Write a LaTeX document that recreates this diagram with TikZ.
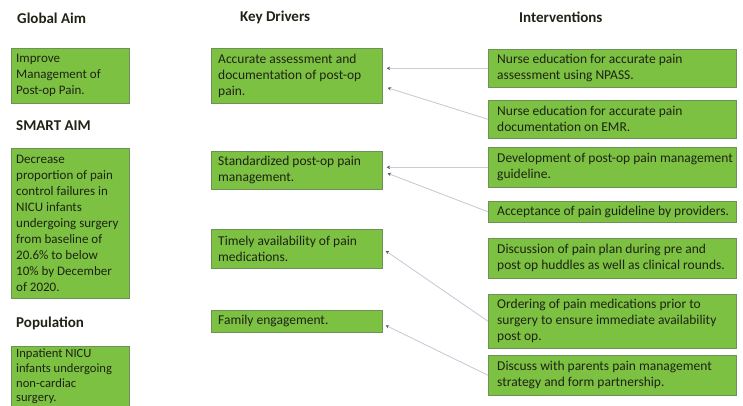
\documentclass[tikz,border=0pt]{standalone}
\usepackage{fontspec}
\setmainfont{Carlito}
\usetikzlibrary{arrows.meta,calc}
\definecolor{boxgreen}{RGB}{125,193,67}
\definecolor{boxedge}{RGB}{110,145,90}
\definecolor{linegray}{RGB}{200,204,214}
\definecolor{tipgray}{RGB}{90,95,110}
\definecolor{txtdark}{RGB}{30,35,20}
\begin{document}
\begin{tikzpicture}[x=1pt,y=-1pt,
  box/.style={draw=boxedge, line width=0.6pt, fill=boxgreen, anchor=north west, inner sep=0pt},
  txt/.style={anchor=west, align=left, inner sep=0pt, text=txtdark, font=\fontsize{13.5}{16}\selectfont},
  ltxt/.style={txt, font=\fontsize{13}{16}\selectfont},
  head/.style={anchor=west, inner sep=0pt, text=txtdark, font=\bfseries\fontsize{15}{18}\selectfont},
  conn/.style={draw=linegray, line width=0.9pt, -{Stealth[length=3.5pt,width=3.5pt,color=tipgray]}}]
\useasboundingbox (0,0) rectangle (743,406);
\begin{scope}
\clip (0,0) rectangle (743,406);
% headings
\node[head] (hg) at (17,18) {Global Aim};
\node[head] (hs) at (16,126) {SMART AIM};
\node[head] (hp) at (16,323) {Population};
\node[head] (hk) at (240,17) {Key Drivers};
\node[head] (hi) at (519,17) {Interventions};
% left column
\node[box, minimum width=118pt, minimum height=55pt] (g1) at (11,48) {};
\node[ltxt] (g1t) at ($(g1.west)+(5,0)$) {Improve\\Management of\\Post-op Pain.};
\node[box, minimum width=118pt, minimum height=150pt] (s1) at (11,148) {};
\node[ltxt] (s1t) at ($(s1.west)+(5,0)$) {Decrease\\proportion of pain\\control failures in\\NICU infants\\undergoing surgery\\from baseline of\\20.6\% to below\\10\% by December\\of 2020.};
\node[box, minimum width=118pt, minimum height=72pt] (p1) at (11,346) {};
\node[ltxt, anchor=north west, font=\fontsize{12.6}{14.6}\selectfont] (p1t) at ($(p1.north west)+(5,3)$) {Inpatient NICU\\infants undergoing\\non-cardiac\\surgery.};
% key drivers
\node[box, minimum width=171pt, minimum height=55pt] (d1) at (211,48) {};
\node[txt] (d1t) at ($(d1.west)+(7,0)$) {Accurate assessment and\\documentation of post-op\\pain.};
\node[box, minimum width=171pt, minimum height=38pt] (d2) at (211,151) {};
\node[txt] (d2t) at ($(d2.west)+(7,0)$) {Standardized post-op pain\\management.};
\node[box, minimum width=171pt, minimum height=39pt] (d3) at (211,229) {};
\node[txt] (d3t) at ($(d3.west)+(7,0)$) {Timely availability of pain\\medications.};
\node[box, minimum width=171pt, minimum height=22pt] (d4) at (211,310) {};
\node[txt] (d4t) at ($(d4.west)+(7,0)$) {Family engagement.};
% interventions
\node[box, minimum width=248pt, minimum height=38pt] (r1) at (488,49) {};
\node[txt] (r1t) at ($(r1.west)+(9,0)$) {Nurse education for accurate pain\\assessment using NPASS.};
\node[box, minimum width=248pt, minimum height=38pt] (r2) at (488,100) {};
\node[txt] (r2t) at ($(r2.west)+(9,0)$) {Nurse education for accurate pain\\documentation on EMR.};
\node[box, minimum width=248pt, minimum height=40pt] (r3) at (488,147) {};
\node[txt] (r3t) at ($(r3.west)+(9,0)$) {Development of post-op pain management\\guideline.};
\node[box, minimum width=248pt, minimum height=21pt] (r4) at (488,201) {};
\node[txt] (r4t) at ($(r4.west)+(9,0)$) {Acceptance of pain guideline by providers.};
\node[box, minimum width=248pt, minimum height=40pt] (r5) at (488,238) {};
\node[txt] (r5t) at ($(r5.west)+(9,0)$) {Discussion of pain plan during pre and\\post op huddles as well as clinical rounds.};
\node[box, minimum width=248pt, minimum height=54pt] (r6) at (488,294) {};
\node[txt] (r6t) at ($(r6.west)+(9,0)$) {Ordering of pain medications prior to\\surgery to ensure immediate availability\\post op.};
\node[box, minimum width=248pt, minimum height=40pt] (r7) at (488,355) {};
\node[txt] (r7t) at ($(r7.west)+(9,0)$) {Discuss with parents pain management\\strategy and form partnership.};
% connectors
\coordinate (a1) at ($(d1.east)+(4,0)$);
\coordinate (a2) at ($(d2.east)+(4,0)$);
\draw[conn] (r1.west) -- (a1 |- r1.west);
\draw[conn] (r2.west) -- ($(d1.east)+(5,12)$);
\draw[conn] (r3.west) -- (a2 |- r3.west);
\draw[conn] (r4.west) -- ($(d2.east)+(5,3)$);
\draw[conn] (r6.west) -- ($(d3.east)+(3,2)$);
\draw[conn] (r7.west) -- ($(d4.east)+(3,4)$);
\end{scope}
\end{tikzpicture}
\end{document}
